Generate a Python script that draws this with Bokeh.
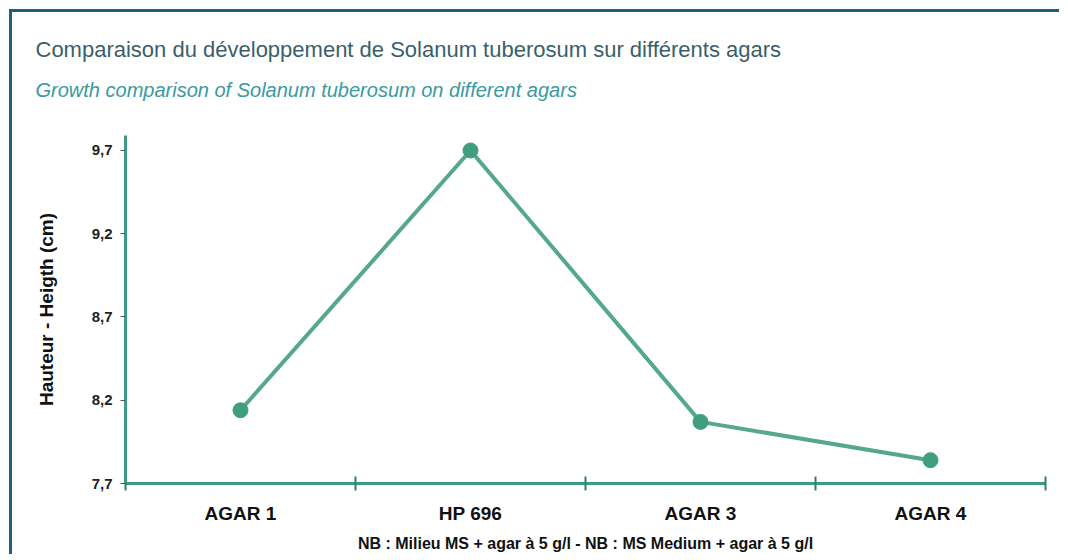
from bokeh.plotting import figure
from bokeh.models import Range1d, FixedTicker, Title
from bokeh.embed import file_html
from bokeh.resources import INLINE

categories = ["AGAR 1", "HP 696", "AGAR 3", "AGAR 4"]
heights = [8.14, 9.70, 8.07, 7.84]
y_ticks = [7.7, 8.2, 8.7, 9.2, 9.7]
y_tick_labels = ["7,7", "8,2", "8,7", "9,2", "9,7"]

title_fr = "Comparaison du développement de Solanum tuberosum sur différents agars"
title_en = "Growth comparison of Solanum tuberosum on different agars"
y_label = "Hauteur - Heigth (cm)"
note = "NB : Milieu MS + agar à 5 g/l - NB : MS Medium + agar à 5 g/l"

W, H = 1050, 545
ORG = 12                      # canvas origin on the page (margin + border)
FRAME_LEFT, FRAME_BOTTOM = 125, 483   # frame position on the page
SANS = "Liberation Sans, Arial, sans-serif"

p = figure(width=W, height=H, output_backend="svg", toolbar_location=None,
           x_range=Range1d(0, len(categories)), y_range=Range1d(7.7, 9.79),
           min_border_left=FRAME_LEFT - ORG, min_border_right=17,
           min_border_top=135 - ORG, min_border_bottom=H - (FRAME_BOTTOM - ORG))
p.styles = {"margin-top": "9px", "margin-left": "9px",
            "border-top": "3px solid #1d5f7c", "border-left": "3px solid #1d5f7c"}
p.outline_line_color = None
p.grid.visible = False
p.background_fill_color = "white"
p.border_fill_color = "white"

# titles (added nearest-first)
p.add_layout(Title(text=title_en, align="left", offset=35 - FRAME_LEFT, standoff=70,
                   text_font=SANS, text_font_size="20px", text_font_style="italic",
                   text_color="#3a9aa0"), "above")
p.add_layout(Title(text=title_fr, align="left", offset=35 - FRAME_LEFT, standoff=-40,
                   text_font=SANS, text_font_size="22px", text_font_style="normal",
                   text_color="#3a5f6b"), "above")

xs = [i + 0.5 for i in range(len(categories))]
p.line(xs, heights, line_color="#55a888", line_width=4)
p.scatter(xs, heights, size=15, fill_color="#3f9e7d", line_color="#3f9e7d")

axis_col = "#3c9b84"
xa = p.xaxis[0]
xa.ticker = FixedTicker(ticks=xs, minor_ticks=list(range(len(categories) + 1)))
xa.major_label_overrides = {x: c for x, c in zip(xs, categories)}
xa.major_tick_line_color = None
xa.major_tick_in = 0
xa.major_tick_out = 0
xa.minor_tick_line_color = "#2f7f6a"
xa.minor_tick_line_width = 2
xa.minor_tick_in = 7
xa.minor_tick_out = 7
xa.axis_line_color = axis_col
xa.axis_line_width = 3
xa.major_label_text_font = SANS
xa.major_label_text_font_style = "bold"
xa.major_label_text_font_size = "19px"
xa.major_label_text_color = "#111111"
xa.major_label_standoff = 12
xa.axis_label = note
xa.axis_label_text_font = SANS
xa.axis_label_text_font_style = "bold"
xa.axis_label_text_font_size = "16px"
xa.axis_label_text_color = "#111111"
xa.axis_label_standoff = 8

ya = p.yaxis[0]
ya.ticker = FixedTicker(ticks=y_ticks)
ya.major_label_overrides = {t: l for t, l in zip(y_ticks, y_tick_labels)}
ya.minor_tick_line_color = None
ya.major_tick_in = 0
ya.major_tick_out = 5
ya.major_tick_line_color = "#555555"
ya.axis_line_color = axis_col
ya.axis_line_width = 3
ya.major_label_text_font = SANS
ya.major_label_text_font_style = "bold"
ya.major_label_text_font_size = "15px"
ya.major_label_text_color = "#222222"
ya.major_label_standoff = 8
ya.axis_label = y_label
ya.axis_label_text_font = SANS
ya.axis_label_text_font_style = "bold"
ya.axis_label_text_font_size = "19px"
ya.axis_label_text_color = "#111111"
ya.axis_label_standoff = 32

open("out.html", "w").write(file_html(p, INLINE))
